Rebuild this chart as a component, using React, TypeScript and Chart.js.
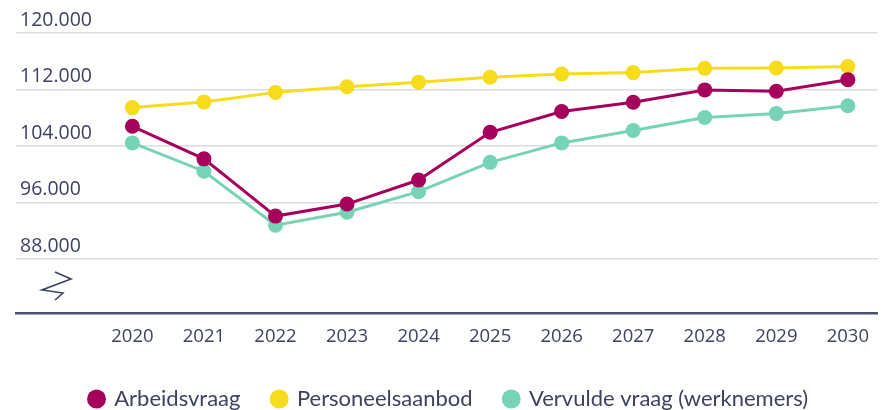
import React, { useEffect, useRef } from "react";
import { Chart, registerables } from "chart.js";

Chart.register(...registerables);

const years = [2020, 2021, 2022, 2023, 2024, 2025, 2026, 2027, 2028, 2029, 2030];
const arbeidsvraag = [106800, 102200, 94100, 95800, 99200, 105950, 108900, 110200, 111950, 111750, 113400];
const personeelsaanbod = [109450, 110250, 111600, 112400, 113050, 113750, 114200, 114400, 115000, 115050, 115250];
const vervuldeVraag = [104450, 100450, 92800, 94650, 97550, 101700, 104450, 106200, 108050, 108600, 109700];
const yTicks = [88000, 96000, 104000, 112000, 120000];

const seriesLabels = ["Arbeidsvraag", "Personeelsaanbod", "Vervulde vraag (werknemers)"];
const seriesColors = ["#a6005d", "#f6dc1c", "#77d3b7"];

const TEXT = "#3d4260";
const FONT = "Lato";
const TICK_FONT = "'Open Sans'";

const fmt = (v: number) => String(Math.round(v)).replace(/\B(?=(\d{3})+(?!\d))/g, ".");

const breakPlugin = {
  id: "axisBreak",
  afterDraw(chart: any) {
    const { ctx, chartArea } = chart;
    const l = chartArea.left;
    const b = chartArea.bottom;
    const pts = [
      [39, -41],
      [55, -34],
      [26, -23],
      [47, -20],
      [39, -13],
    ];
    ctx.save();
    ctx.strokeStyle = TEXT;
    ctx.lineWidth = 1.6;
    ctx.beginPath();
    pts.forEach(([dx, dy], i) => {
      if (i === 0) ctx.moveTo(l + dx, b + dy);
      else ctx.lineTo(l + dx, b + dy);
    });
    ctx.stroke();
    ctx.restore();
  },
};

export default function App() {
  const ref = useRef<HTMLCanvasElement | null>(null);

  useEffect(() => {
    if (!ref.current) return;
    const series = [arbeidsvraag, personeelsaanbod, vervuldeVraag];
    const chart = new Chart(ref.current, {
      type: "line",
      data: {
        datasets: series.map((vals, i) => ({
          label: seriesLabels[i],
          data: years.map((y, j) => ({ x: y, y: vals[j] })),
          borderColor: seriesColors[i],
          backgroundColor: seriesColors[i],
          pointBackgroundColor: seriesColors[i],
          pointBorderWidth: 0,
          pointRadius: 7.5,
          borderWidth: 3,
          tension: 0,
          fill: false,
        })),
      },
      options: {
        animation: false,
        responsive: false,
        maintainAspectRatio: false,
        layout: { autoPadding: false, padding: { left: 16, right: 0, top: 33, bottom: -10 } },
        plugins: {
          tooltip: { enabled: false },
          legend: {
            position: "bottom",
            labels: {
              usePointStyle: true,
              pointStyle: "circle",
              boxHeight: 13.4,
              boxWidth: 13.4,
              padding: 32,
              color: TEXT,
              font: { family: FONT, size: 22 },
            },
          },
        },
        scales: {
          x: {
            type: "linear",
            min: 2018.373,
            max: 2030.417,
            afterBuildTicks: (scale: any) => {
              scale.ticks = years.map((v) => ({ value: v }));
            },
            afterFit: (scale: any) => {
              scale.height = 43;
            },
            grid: { display: false, drawTicks: false },
            border: { display: true, color: "#4b5070", width: 2.5 },
            ticks: {
              padding: 13,
              color: TEXT,
              font: { family: TICK_FONT, size: 18.5 },
              callback: (v: any) => String(v),
              maxRotation: 0,
              autoSkip: false,
            },
          },
          y: {
            type: "linear",
            min: 80390,
            max: 120000,
            afterBuildTicks: (scale: any) => {
              scale.ticks = yTicks.map((v) => ({ value: v }));
            },
            afterFit: (scale: any) => {
              scale.width = 0;
            },
            grid: { color: "#dcdce2", lineWidth: 1.5, drawTicks: false },
            border: { display: false },
            ticks: {
              mirror: true,
              padding: 4,
              labelOffset: -13,
              color: TEXT,
              font: { family: TICK_FONT, size: 19.5 },
              callback: (v: any) => fmt(Number(v)),
            },
          },
        },
      },
      plugins: [breakPlugin],
    });
    return () => chart.destroy();
  }, []);

  return (
    <div style={{ position: "fixed", left: 0, top: 0, width: 882, height: 410, background: "#fff" }}>
      <canvas ref={ref} width={882} height={410} style={{ display: "block", width: 882, height: 410 }} />
    </div>
  );
}
